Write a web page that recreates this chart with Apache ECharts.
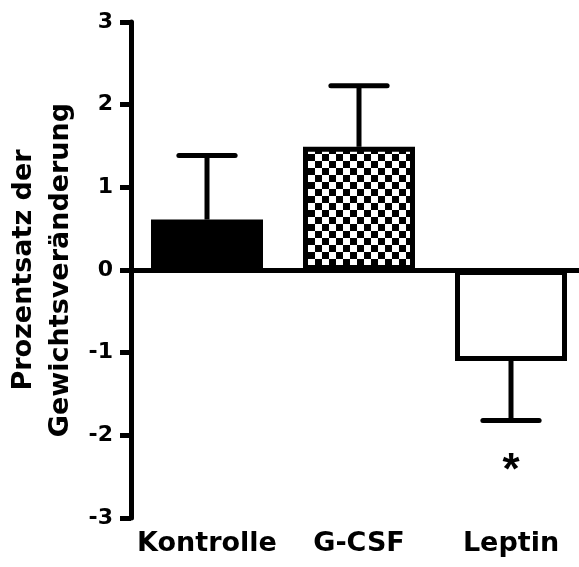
<!DOCTYPE html>
<html>
<head>
<meta charset="utf-8">
<script src="https://cdn.jsdelivr.net/npm/echarts@6/dist/echarts.min.js"></script>
<style>
  html, body { margin: 0; padding: 0; background: #fff; }
  #chart { width: 579px; height: 567px; }
</style>
</head>
<body>
<div id="chart"></div>
<script>
// Werte
const categories = ['Kontrolle', 'G-CSF', 'Leptin']
const means = [0.61, 1.49, -1.10]
const errors = [0.775, 0.74, 0.72]
const significance = ['', '', '*']
const yMin = -3
const yMax = 3
const yStep = 1

const FONT = 'DejaVu Sans'

// Schachbrettmuster fuer G-CSF
const makeChecker = () => {
  const c = document.createElement('canvas')
  c.width = 14
  c.height = 14
  const ctx = c.getContext('2d')
  ctx.fillStyle = '#fff'
  ctx.fillRect(0, 0, 14, 14)
  ctx.fillStyle = '#000'
  ctx.fillRect(0, 0, 7, 7)
  ctx.fillRect(7, 7, 7, 7)
  return { image: c, repeat: 'repeat' }
}

const fills = ['#000', makeChecker(), '#fff']

const chart = echarts.init(document.getElementById('chart'), null, { renderer: 'canvas' })

chart.setOption({
  animation: false,
  backgroundColor: '#fff',
  grid: { left: 131, right: -8, top: 22, bottom: 49, containLabel: false, outerBoundsMode: 'none' },
  xAxis: {
    type: 'category',
    data: categories,
    axisLine: { lineStyle: { color: '#000', width: 5 } },
    axisTick: { show: false },
    axisLabel: {
      interval: 0,
      color: '#000',
      fontFamily: FONT,
      fontWeight: 'bold',
      fontSize: 27,
      margin: 12
    }
  },
  yAxis: {
    type: 'value',
    min: yMin,
    max: yMax,
    interval: yStep,
    name: 'Prozentsatz der\nGewichtsveränderung',
    nameLocation: 'middle',
    nameRotate: 90,
    nameGap: 52,
    nameMoveOverlap: false,
    nameTextStyle: {
      color: '#000',
      fontFamily: FONT,
      fontWeight: 'bold',
      fontSize: 27,
      lineHeight: 37,
      align: 'center'
    },
    axisLine: { show: true, lineStyle: { color: '#000', width: 5 } },
    axisTick: { show: true, length: 11, lineStyle: { color: '#000', width: 5 } },
    axisLabel: {
      color: '#000',
      fontFamily: FONT,
      fontWeight: 'bold',
      fontSize: 22,
      margin: 18
    },
    splitLine: { show: false }
  },
  series: [
    {
      type: 'bar',
      barWidth: 112,
      data: means.map((v, i) => ({
        value: v,
        itemStyle: { color: fills[i], borderColor: '#000', borderWidth: 5 }
      })),
      markLine: {
        silent: true,
        symbol: 'none',
        label: { show: false },
        lineStyle: { color: '#000', width: 5, type: 'solid' },
        data: [{ yAxis: 0 }]
      }
    },
    {
      type: 'custom',
      z: 3,
      data: means.map((m, i) => [i, m, errors[i]]),
      renderItem: (params, api) => {
        const i = api.value(0)
        const m = api.value(1)
        const e = api.value(2)
        const tip = m >= 0 ? m + e : m - e
        const base = api.coord([i, m])
        const end = api.coord([i, tip])
        const half = api.size([1, 0])[0] * 0.185
        const children = [
          {
            type: 'line',
            shape: { x1: base[0], y1: base[1], x2: end[0], y2: end[1] },
            style: { stroke: '#000', lineWidth: 5 }
          },
          {
            type: 'line',
            shape: { x1: end[0] - half, y1: end[1], x2: end[0] + half, y2: end[1] },
            style: { stroke: '#000', lineWidth: 5, lineCap: 'round' }
          }
        ]
        const mark = significance[params.dataIndex]
        if (mark) {
          children.push({
            type: 'text',
            x: end[0],
            y: end[1] + 51,
            style: {
              text: mark,
              fill: '#000',
              font: 'bold 44px "Liberation Sans"',
              align: 'center',
              verticalAlign: 'middle'
            }
          })
        }
        return { type: 'group', children }
      }
    }
  ]
})
</script>
</body>
</html>
